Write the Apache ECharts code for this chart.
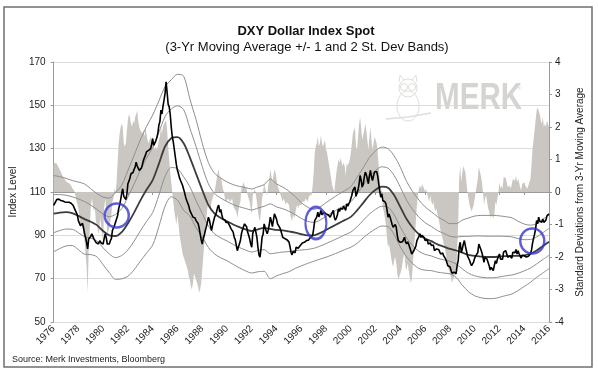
<!DOCTYPE html>
<html><head><meta charset="utf-8">
<script src="https://cdn.jsdelivr.net/npm/echarts@6/dist/echarts.min.js"></script>
<style>html,body{margin:0;padding:0;background:#fff}#c{width:598px;height:375px}</style>
</head><body><div id="c"></div>
<script>
// Monthly DXY index level, Jan 1976 .. Jan 2016
const dxyStartYear = 1976;
const dxy = [
103.8,104.5,105.5,106.5,106.9,106.7,106.4,106.1,106.3,105.8,105.6,105.4,
105.5,105.3,105.5,105.3,105.0,104.8,104.2,103.8,103.5,101.5,100.8,99.5,
96.8,96.0,94.5,95.0,95.5,93.5,90.7,89.0,86.5,83.7,88.3,88.0,
89.5,90.7,89.8,88.5,87.8,86.8,86.5,86.0,86.8,87.5,86.5,86.3,
86.0,88.5,90.7,89.0,86.0,86.5,86.0,87.5,88.5,92.2,93.0,94.5,
94.5,97.5,99.0,102.2,104.0,106.5,109.5,111.5,108.0,107.6,106.5,109.0,
113.8,115.0,116.5,118.4,117.5,119.0,120.5,121.5,123.8,122.0,121.0,120.0,
120.5,121.0,122.5,124.6,125.5,127.0,128.5,128.0,129.2,128.5,130.0,132.0,
134.6,131.5,130.8,133.5,135.0,137.0,140.8,142.5,147.8,146.0,149.5,152.4,
155.5,160.9,156.0,150.5,149.3,146.0,140.0,135.5,133.0,129.5,126.0,122.5,
120.0,118.4,116.5,115.3,114.5,113.0,112.3,109.5,107.5,106.1,105.5,103.5,
101.5,100.5,99.5,98.4,99.0,98.0,96.8,97.5,95.5,93.5,90.7,88.0,
86.0,88.5,90.0,92.2,94.0,96.0,98.4,97.0,94.5,92.2,94.5,96.5,
98.4,99.5,101.0,103.0,104.0,100.7,102.0,99.5,97.6,98.5,97.0,96.0,
95.3,96.0,95.5,94.0,93.0,93.5,91.5,89.1,88.0,85.5,82.9,84.5,
86.0,87.5,90.7,92.5,94.0,95.3,96.0,94.0,91.5,90.0,88.3,86.0,
84.5,91.0,92.2,93.7,91.5,89.0,84.5,81.0,79.9,84.0,89.1,90.5,
95.3,93.5,92.0,90.7,92.5,95.0,98.4,96.5,94.0,97.0,99.9,99.0,
97.5,95.3,94.5,93.7,92.5,92.0,89.1,90.0,88.5,87.6,88.0,88.5,
87.0,85.0,82.2,81.0,82.5,82.2,82.0,84.5,85.0,84.0,84.5,85.3,
85.3,86.5,86.5,86.8,87.5,87.6,87.0,87.8,88.5,89.1,88.5,90.0,
93.0,96.8,97.5,98.5,100.7,98.5,99.9,101.5,99.5,100.0,100.7,101.5,
99.9,100.5,99.5,99.0,98.4,99.5,100.5,101.5,98.4,97.0,98.0,99.5,
102.2,101.0,102.5,103.0,102.0,103.5,103.0,101.5,104.5,103.5,104.5,105.5,
106.1,108.5,110.7,111.5,112.3,108.0,107.6,111.0,113.8,117.6,115.5,112.3,
113.5,116.9,119.2,118.0,116.0,113.8,117.6,120.0,117.0,115.3,117.5,119.2,
120.0,119.5,117.5,113.8,110.5,107.6,109.2,106.1,106.5,105.5,104.5,102.0,
98.4,99.9,98.5,96.8,95.0,93.7,94.5,95.0,93.7,90.0,87.6,87.0,
86.8,87.5,87.0,88.0,89.1,87.0,86.0,87.0,86.0,84.5,83.0,81.4,
82.0,82.9,83.5,85.0,87.6,88.5,89.5,90.7,89.0,90.0,89.9,89.0,
87.6,88.5,88.0,86.0,85.5,86.5,85.3,85.0,85.5,82.9,83.5,83.7,
83.7,83.5,82.5,81.4,81.5,81.8,80.5,79.9,79.0,77.5,76.0,75.5,
75.5,74.0,72.5,72.1,73.0,72.7,72.3,76.0,78.3,84.5,86.8,82.0,
83.7,86.0,87.6,85.0,82.9,80.5,79.9,78.5,77.0,76.0,75.5,77.8,
79.5,80.5,81.0,82.0,86.0,86.8,83.5,82.0,80.0,77.5,79.9,80.5,
79.0,77.5,76.0,74.0,75.2,74.5,73.7,74.4,78.3,77.0,79.0,79.9,
81.4,79.0,79.9,79.0,82.2,82.5,83.0,81.5,79.9,79.8,80.5,80.0,
79.5,82.2,82.5,82.0,83.5,81.4,82.9,81.5,80.5,79.5,80.8,80.0,
80.6,80.5,80.0,79.8,80.3,80.4,81.4,83.0,86.3,88.5,90.5,93.0,
96.8,95.3,98.4,96.5,96.0,96.0,97.5,96.0,96.2,97.0,99.0,98.8,
99.9
];
// Monthly standard deviations from the 3-yr moving average (right axis)
const stdDev = [
0.82,0.9,0.92,0.88,0.82,0.75,0.7,0.62,0.55,0.48,0.42,0.38,
0.35,0.3,0.3,0.27,0.22,0.2,0.12,0.1,0.05,-0.1,-0.25,-0.37,
-0.5,-0.77,-1.1,-1.0,-1.0,-1.2,-1.5,-1.9,-2.3,-3.1,-1.8,-1.2,
-0.5,-0.2,-0.4,-0.6,-0.5,-0.9,-1.0,-1.2,-1.3,-0.8,-1.0,-1.3,
-1.5,-0.5,-0.2,-0.6,-1.3,-1.2,-1.1,-0.9,-0.7,-0.3,-0.2,0.1,
0.0,0.3,0.9,1.5,1.8,2.0,2.1,2.0,1.5,1.4,1.5,1.9,
2.2,2.4,2.3,2.1,2.0,2.2,2.1,2.3,2.4,2.5,2.2,2.0,
1.9,1.9,1.8,1.9,1.7,2.0,1.8,1.6,1.5,1.6,1.7,1.6,
1.7,1.4,1.3,1.4,1.3,1.4,1.6,1.7,2.0,1.8,2.0,2.1,
2.1,2.2,1.9,1.4,1.0,0.6,0.3,0.0,-0.3,-0.6,-0.8,-1.0,
-0.7,-1.0,-1.3,-1.5,-1.7,-1.9,-2.0,-2.1,-2.2,-2.3,-2.4,-2.6,
-2.7,-2.9,-3.0,-2.8,-2.5,-2.6,-2.7,-2.8,-2.9,-3.1,-3.0,-2.8,
-2.4,-2.0,-1.6,-1.2,-0.8,-0.5,-0.3,-0.4,-0.5,-0.3,-0.2,-0.1,
0.0,0.2,0.4,0.6,0.7,0.4,0.5,0.3,0.1,0.0,-0.2,-0.3,
-0.3,-0.2,-0.2,-0.3,-0.3,-0.2,-0.4,-0.5,-0.5,-0.6,-0.8,-0.6,
-0.4,-0.3,0.1,0.2,0.3,0.2,0.2,0.1,-0.1,-0.2,-0.3,-0.5,
-0.7,-0.1,0.0,0.1,-0.1,-0.3,-0.6,-0.8,-0.9,-0.6,-0.2,0.0,
0.3,0.1,0.0,-0.1,0.2,0.4,0.7,0.5,0.3,0.5,0.7,0.6,
0.4,0.2,0.1,0.0,-0.1,-0.1,-0.3,-0.2,-0.3,-0.4,-0.3,-0.3,
-0.4,-0.6,-0.8,-0.9,-0.7,-0.8,-0.7,-0.5,-0.4,-0.5,-0.4,-0.4,
-0.4,-0.3,-0.3,-0.3,-0.2,-0.2,-0.3,-0.2,-0.1,-0.1,-0.1,0.2,
0.6,1.2,1.4,1.5,1.7,1.4,1.5,1.75,1.5,1.4,1.5,1.6,
1.3,1.2,1.0,0.8,0.6,0.4,0.2,0.1,0.0,0.3,0.6,0.8,
1.0,0.9,1.05,1.0,0.8,0.9,0.8,0.5,0.9,0.8,0.9,1.0,
1.2,1.5,1.8,1.9,2.0,1.4,1.3,1.7,2.1,2.3,2.0,1.6,
1.6,1.9,2.1,1.9,1.6,1.3,1.7,2.0,1.6,1.3,1.5,1.7,
1.6,1.5,1.2,0.8,0.4,0.0,0.1,-0.5,-0.6,-0.8,-1.0,-1.4,
-1.7,-1.6,-1.8,-2.0,-2.2,-2.3,-2.1,-2.0,-2.2,-2.5,-2.7,-2.6,
-2.6,-2.4,-2.2,-2.0,-1.9,-2.3,-2.4,-2.2,-2.4,-2.6,-2.8,-2.7,
-2.3,-1.8,-1.4,-0.9,-0.4,-0.1,0.1,0.2,0.1,0.25,0.2,0.1,
0.0,0.1,0.05,-0.2,-0.3,-0.1,-0.3,-0.4,-0.3,-0.5,-0.6,-0.5,
-0.7,-0.8,-1.0,-1.2,-1.3,-1.3,-1.6,-1.7,-1.9,-2.1,-2.3,-2.4,
-2.5,-2.6,-2.8,-2.7,-2.6,-2.5,-2.6,-1.8,-1.0,0.4,0.8,0.3,
0.6,0.8,0.85,0.6,0.3,0.0,-0.2,-0.4,-0.5,-0.6,-0.6,-0.4,
-0.2,0.0,0.2,0.4,0.77,0.8,0.5,0.3,0.0,-0.4,-0.2,-0.1,
-0.3,-0.5,-0.6,-0.8,-0.7,-0.7,-0.8,-0.7,-0.3,-0.4,-0.2,0.0,
0.3,0.1,0.2,0.1,0.45,0.5,0.45,0.3,0.15,0.1,0.2,0.1,
0.1,0.4,0.45,0.35,0.5,0.3,0.4,0.3,0.15,0.05,0.25,0.2,
0.3,0.2,0.15,0.1,0.2,0.2,0.4,0.8,1.3,1.6,1.9,2.2,
2.5,2.6,2.65,2.4,2.2,2.1,2.3,2.0,2.1,2.0,2.2,2.1,
2.0
];
// Half-yearly readings of the moving average and its bands, 1976.0 .. 2016.0
const bandStartYear = 1976;
const movingAvg = [
100.0,100.5,100.7,100.3,99.0,97.5,96.3,94.7,92.0,90.0,
89.7,91.5,95.5,100.5,106.0,111.0,115.5,123.0,131.0,134.8,
135.3,132.5,126.0,118.5,111.0,104.0,100.0,98.0,96.5,95.0,
93.8,92.8,92.0,92.8,93.4,93.0,92.5,92.3,91.8,91.3,
90.5,90.0,90.0,91.0,92.5,94.0,95.5,97.0,98.5,101.5,
105.0,108.5,111.0,112.5,112.0,108.5,103.0,97.5,93.5,90.5,
88.5,87.3,85.8,84.8,83.8,83.0,82.0,81.0,80.5,80.2,
80.0,80.0,80.2,80.4,80.5,80.5,80.8,81.5,83.0,85.0,87.0
];
const plus2Sd = [
117.6,117.1,116.3,115.3,114.6,113.7,111.5,109.3,107.6,107.2,
109.7,113.1,119.9,126.9,134.0,140.2,145.5,152.0,158.6,161.8,
164.3,163.5,153.0,143.5,132.6,123.6,118.6,116.4,114.7,113.4,
112.6,112.0,111.4,112.4,113.4,116.0,113.7,112.3,110.4,107.9,
105.1,103.0,102.0,103.0,105.1,107.0,108.9,110.6,112.5,116.7,
121.2,125.9,129.0,130.7,130.0,126.7,121.4,114.9,110.1,106.3,
103.1,100.9,98.6,97.0,95.4,95.4,97.0,98.0,98.9,99.2,
99.2,99.2,99.0,98.6,98.1,96.5,95.2,94.7,95.4,97.4,99.4
];
const plus1Sd = [
108.8,108.8,108.5,107.8,106.8,105.6,103.9,102.0,99.8,98.6,
99.7,102.3,107.7,113.7,120.0,125.6,130.5,137.5,144.8,148.3,
149.8,148.0,139.5,131.0,121.8,113.8,109.3,107.2,105.6,104.2,
103.2,102.4,101.7,102.6,103.4,104.5,103.1,102.3,101.1,99.6,
97.8,96.5,96.0,97.0,98.8,100.5,102.2,103.8,105.5,109.1,
113.1,117.2,120.0,121.6,121.0,117.6,112.2,106.2,101.8,98.4,
95.8,94.1,92.2,90.9,89.6,89.2,89.5,89.5,89.7,89.7,
89.6,89.6,89.6,89.5,89.3,88.5,88.0,88.1,89.2,91.2,93.2
];
const minus1Sd = [
91.2,92.2,92.9,92.8,91.2,89.4,88.7,87.4,84.2,81.4,
79.7,80.7,83.3,87.3,92.0,96.4,100.5,108.5,117.2,121.3,
120.8,117.0,112.5,106.0,100.2,94.2,90.7,88.8,87.4,85.8,
84.4,83.2,82.3,83.0,83.4,81.5,81.9,82.3,82.5,83.0,
83.2,83.5,84.0,85.0,86.2,87.5,88.8,90.2,91.5,93.9,
96.9,99.8,102.0,103.4,103.0,99.4,93.8,88.8,85.2,82.6,
81.2,80.5,79.4,78.7,78.0,76.8,74.5,72.5,71.3,70.7,
70.4,70.4,70.8,71.3,71.7,72.5,73.6,74.9,76.8,78.8,80.8
];
const minus2Sd = [
82.4,83.9,85.1,85.3,83.4,81.3,81.1,80.1,76.4,72.8,
69.7,69.9,71.1,74.1,78.0,81.8,85.5,94.0,103.4,107.8,
106.3,101.5,99.0,93.5,89.4,84.4,81.4,79.6,78.3,76.6,
75.0,73.6,72.6,73.2,73.4,70.0,71.3,72.3,73.2,74.7,
75.9,77.0,78.0,79.0,79.9,81.0,82.1,83.4,84.5,86.3,
88.8,91.1,93.0,94.3,94.0,90.3,84.6,80.1,76.9,74.7,
73.9,73.7,73.0,72.6,72.2,70.6,67.0,64.0,62.1,61.2,
60.8,60.8,61.4,62.2,62.9,64.5,66.4,68.3,70.6,72.6,74.6
];
// Highlighted breakouts (blue circles)
const circleYears = [1981.1, 1997.18, 2014.65];
const circleLevels = [99.2, 95.7, 87.4];
const xTickYears = [1976, 2016];
const leftTicks = [50, 170, 20];
const rightTicks = [-4, 4, 1];

const monthly = arr => arr.map((v, i) => [dxyStartYear + i / 12, v]);
const halfYearly = arr => arr.map((v, i) => [bandStartYear + i / 2, v]);

const FONT = "'Liberation Sans Narrow','Liberation Sans',Arial,sans-serif";
const bandStyle = { color: '#8e8e8e', width: 1 };
const circleSizes = [[24, 24], [21, 32], [24, 25]];
const owlStroke = { fill: 'none', stroke: '#e0deda', lineWidth: 1 };

const chart = echarts.init(document.getElementById('c'), null, { renderer: 'canvas' });
chart.setOption({
  animation: false,
  backgroundColor: '#fff',
  grid: { left: 50, right: 49, top: 62, bottom: 53, containLabel: false },
  xAxis: {
    type: 'value', min: xTickYears[0], max: xTickYears[1], interval: 2,
    axisLine: { show: true, lineStyle: { color: '#9a9a9a', width: 1 } },
    axisTick: { show: true, length: 3, lineStyle: { color: '#9a9a9a' } },
    splitLine: { show: false },
    axisLabel: { rotate: 45, fontSize: 10, color: '#222', fontFamily: FONT, margin: 5, formatter: v => String(v) }
  },
  yAxis: [{
    type: 'value', min: leftTicks[0], max: leftTicks[1], interval: leftTicks[2], position: 'left',
    name: 'Index Level', nameLocation: 'middle', nameGap: 30, nameRotate: 90,
    nameTextStyle: { fontSize: 10, color: '#222', fontFamily: FONT },
    axisLine: { show: true, lineStyle: { color: '#9a9a9a', width: 1 } },
    axisTick: { show: true, length: 3, lineStyle: { color: '#9a9a9a' } },
    splitLine: { show: true, lineStyle: { color: '#dcdcdc', width: 1 } },
    axisLabel: { fontSize: 10, color: '#222', fontFamily: FONT, margin: 8 }
  }, {
    type: 'value', min: rightTicks[0], max: rightTicks[1], interval: rightTicks[2], position: 'right',
    name: 'Standard Deviations from 3-Yr Moving Average', nameLocation: 'middle', nameGap: 22, nameRotate: 90,
    nameTextStyle: { fontSize: 10, color: '#222', fontFamily: FONT },
    axisLine: { show: true, lineStyle: { color: '#9a9a9a', width: 1 } },
    axisTick: { show: true, length: 3, lineStyle: { color: '#9a9a9a' } },
    splitLine: { show: false },
    axisLabel: { fontSize: 10, color: '#222', fontFamily: FONT, margin: 6 }
  }],
  graphic: [
    { type: 'rect', shape: { x: 4, y: 7, width: 588, height: 360 }, style: { fill: 'none', stroke: '#6f6f6f', lineWidth: 1.5 }, z: 0 },
    { type: 'text', x: 306, y: 31, style: { text: 'DXY Dollar Index Spot', font: "bold 13px 'Liberation Sans',Arial,sans-serif", fill: '#111', align: 'center', verticalAlign: 'middle' } },
    { type: 'text', x: 307, y: 47, style: { text: '(3-Yr Moving Average +/- 1 and 2 St. Dev Bands)', font: "13px 'Liberation Sans',Arial,sans-serif", fill: '#111', align: 'center', verticalAlign: 'middle' } },
    { type: 'text', x: 12, y: 360, style: { text: 'Source: Merk Investments, Bloomberg', font: "9px " + FONT, fill: '#222', align: 'left', verticalAlign: 'middle' } },
    { type: 'text', x: 435, y: 99, scaleX: 0.8, originX: 0, originY: 0, style: { text: 'MERK', font: "bold 37px " + FONT, fill: '#d6d4d0', align: 'left', verticalAlign: 'middle' }, z: 1 },
    { type: 'text', x: 517, y: 85, style: { text: '®', font: "6px 'Liberation Sans',Arial", fill: '#d6d4d0' }, z: 1 },
    { type: 'group', z: 1, children: [
      { type: 'ellipse', shape: { cx: 408, cy: 106, rx: 11, ry: 15 }, style: owlStroke },
      { type: 'circle', shape: { cx: 408, cy: 88, r: 9 }, style: owlStroke },
      { type: 'circle', shape: { cx: 404, cy: 87, r: 3.5 }, style: owlStroke },
      { type: 'circle', shape: { cx: 412, cy: 87, r: 3.5 }, style: owlStroke },
      { type: 'polyline', shape: { points: [[399, 82], [400, 75], [404, 80]] }, style: owlStroke },
      { type: 'polyline', shape: { points: [[412, 80], [416, 75], [417, 82]] }, style: owlStroke },
      { type: 'polyline', shape: { points: [[386, 119], [408, 117], [431, 113]] }, style: { fill: 'none', stroke: '#e0deda', lineWidth: 1.5 } }
    ] }
  ],
  series: [
    { name: 'St Dev', type: 'line', yAxisIndex: 1, data: monthly(stdDev), showSymbol: false, symbol: 'none',
      lineStyle: { width: 0 }, areaStyle: { color: '#cac7c2', opacity: 1, origin: 0 }, z: 2 },
    { name: '+2', type: 'line', data: halfYearly(plus2Sd), symbol: 'none', smooth: 0.3, lineStyle: bandStyle, z: 3 },
    { name: '+1', type: 'line', data: halfYearly(plus1Sd), symbol: 'none', smooth: 0.3, lineStyle: bandStyle, z: 3 },
    { name: '-1', type: 'line', data: halfYearly(minus1Sd), symbol: 'none', smooth: 0.3, lineStyle: bandStyle, z: 3 },
    { name: '-2', type: 'line', data: halfYearly(minus2Sd), symbol: 'none', smooth: 0.3, lineStyle: bandStyle, z: 3 },
    { name: 'MA', type: 'line', data: halfYearly(movingAvg), symbol: 'none', smooth: 0.3, lineStyle: { color: '#3c3c3c', width: 1.8 }, z: 4 },
    { name: 'DXY', type: 'line', data: monthly(dxy), symbol: 'none', lineStyle: { color: '#000', width: 1.6 }, z: 5 },
    { name: 'circles', type: 'scatter', symbol: 'circle',
      data: circleYears.map((y, i) => ({ value: [y, circleLevels[i]], symbolSize: circleSizes[i] })),
      itemStyle: { color: 'rgba(0,0,0,0)', borderColor: '#3636cc', borderWidth: 2.5 }, z: 6 }
  ]
});
</script></body></html>
